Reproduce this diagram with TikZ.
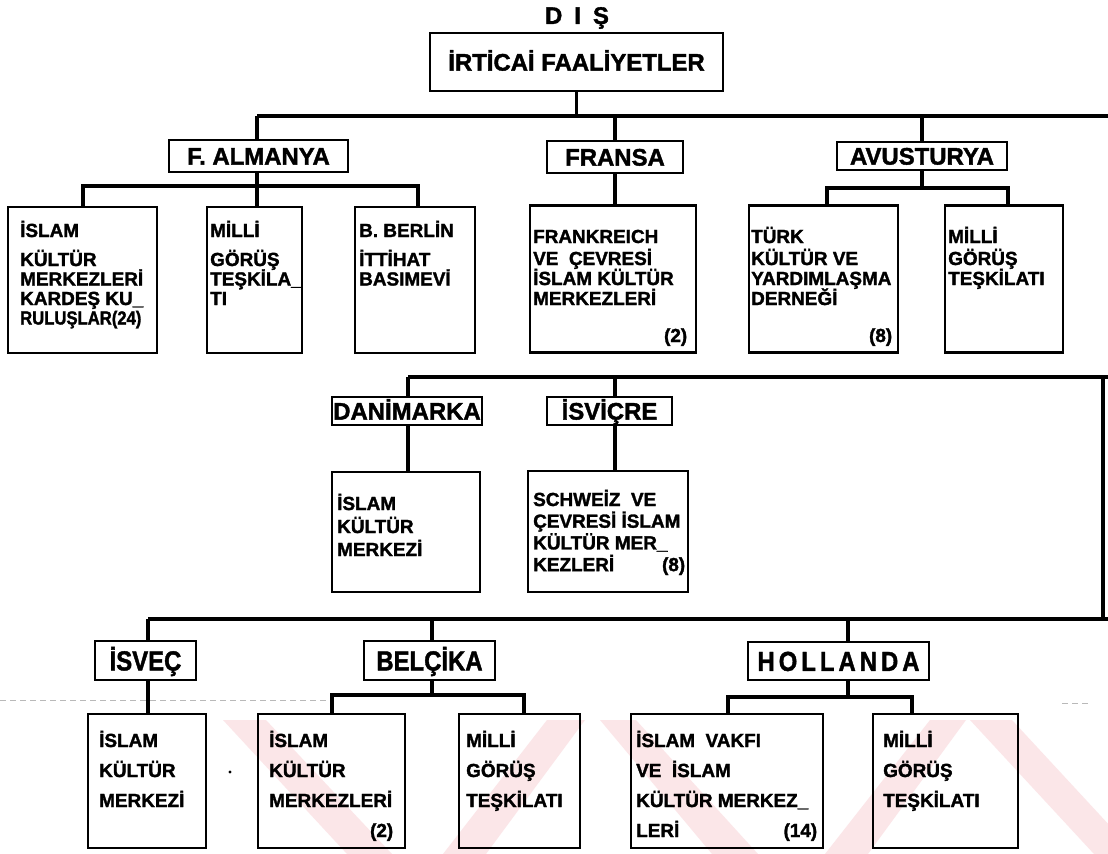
\documentclass[tikz,border=0pt]{standalone}
\usepackage{graphicx}
\usepackage{fontspec}
\setmainfont{Liberation Sans}[BoldFeatures={FakeBold=1.6}]
\definecolor{wm}{RGB}{251,230,232}
\newcommand{\tb}[3]{\parbox[t]{#1}{\fontsize{19}{#2}\selectfont\lineskiplimit=-100pt\lineskip=0pt\hyphenpenalty=10000\exhyphenpenalty=10000\raggedright #3}}
\newcommand{\tall}[1]{\scalebox{1}[1.15]{#1}}
\begin{document}
\begin{tikzpicture}[x=1bp,y=-1bp,
  bus/.style={line width=3.4bp},
  conn/.style={line width=3.1bp},
  lbl/.style={draw, line width=2.5bp, inner sep=0pt, text height=17.2bp, text depth=0pt, font=\bfseries\fontsize{24}{28}\selectfont},
  lbltall/.style={lbl, text height=19.8bp},
  cbox/.style={draw, line width=2.5bp, inner sep=0pt},
  ctxt/.style={anchor=base west, inner sep=0pt, font=\bfseries}
]
\useasboundingbox[fill=white] (0,0) rectangle (1108,854);
% watermark bands
\fill[wm] (223,720) -- (266,720) -- (392,854) -- (347,854) -- cycle;
\fill[wm] (547,720) -- (585,720) -- (486,854) -- (443,854) -- cycle;
\fill[wm] (600,720) -- (636,720) -- (758,854) -- (712,854) -- cycle;
\fill[wm] (930,720) -- (966,720) -- (868,854) -- (825,854) -- cycle;
\fill[wm] (970,720) -- (1012,720) -- (1136,854) -- (1094,854) -- cycle;
% scan artifacts
\draw[gray!55, line width=0.9bp, dash pattern=on 6bp off 4bp] (0,700) -- (330,700);
\draw[gray!55, line width=0.9bp, dash pattern=on 6bp off 4bp] (1062,703) -- (1090,703);
\fill (230,772) circle (1.6bp);

% title
\node[font=\bfseries\fontsize{24}{28}\selectfont] (dis) at (577,18) {D\hspace{12bp}I\hspace{12bp}Ş};
\node[lbl, minimum width=293bp, minimum height=58bp] (root) at (576.5,62) {İRTİCAİ FAALİYETLER};

% level 1 labels
\node[lbl, minimum width=179bp, minimum height=32bp] (alm) at (258.5,156) {F. ALMANYA};
\node[lbl, minimum width=136bp, minimum height=32bp] (fra) at (615,157) {FRANSA};
\node[lbl, minimum width=170bp, minimum height=28bp] (avu) at (922,156) {AVUSTURYA};

% level 1 children boxes
\node[cbox, minimum width=149bp, minimum height=146bp] (a1) at (82.5,280) {};
\node[cbox, minimum width=95bp, minimum height=146bp] (a2) at (254.5,280) {};
\node[cbox, minimum width=120bp, minimum height=146bp] (a3) at (415,280) {};
\node[cbox, minimum width=166bp, minimum height=147bp] (f1) at (613,279) {};
\node[cbox, minimum width=149bp, minimum height=147bp] (v1) at (823.5,279) {};
\node[cbox, minimum width=118bp, minimum height=147bp] (v2) at (1004,279) {};

\node[ctxt] (a1t) at (20,237) {\tb{140bp}{19.5bp}{İSLAM\\[9.5bp]KÜLTÜR\\MERKEZLERİ\\KARDEŞ~KU\_\\\scalebox{0.88}[1]{RULUŞLAR(24)}}};
\node[ctxt] (a2t) at (210,237) {\tb{100bp}{19.5bp}{MİLLİ\\[9.5bp]GÖRÜŞ\\TEŞKİLA\_\\TI}};
\node[ctxt] (a3t) at (359,237) {\tb{120bp}{19.5bp}{B.~BERLİN\\[9.5bp]İTTİHAT\\BASIMEVİ}};
\node[ctxt] (f1t) at (533,243) {\tb{154bp}{20bp}{FRANKREICH\\[2bp]VE~~ÇEVRESİ\\İSLAM~KÜLTÜR\\MERKEZLERİ\\[17bp]\hfill(2)}};
\node[ctxt] (v1t) at (751,243) {\tb{141bp}{20bp}{TÜRK\\[2bp]KÜLTÜR~VE\\YARDIMLAŞMA\\DERNEĞİ\\[17bp]\hfill(8)}};
\node[ctxt] (v2t) at (948,243) {\tb{110bp}{20bp}{MİLLİ\\[2bp]GÖRÜŞ\\TEŞKİLATI}};

% level 2
\node[lbl, minimum width=150bp, minimum height=28bp] (dan) at (407,411) {DANİMARKA};
\node[lbl, minimum width=125bp, minimum height=28bp] (isv) at (609.5,411) {İSVİÇRE};
\node[cbox, minimum width=148bp, minimum height=120bp] (d1) at (406,532) {};
\node[cbox, minimum width=160bp, minimum height=121bp] (s1) at (608,531.5) {};
\node[ctxt] (d1t) at (337,510) {\tb{140bp}{23bp}{İSLAM\\KÜLTÜR\\MERKEZİ}};
\node[ctxt] (s1t) at (533,506) {\tb{152bp}{21.7bp}{SCHWEİZ~~VE\\ÇEVRESİ~İSLAM\\KÜLTÜR~MER\_\\KEZLERİ\hfill(8)}};

% level 3
\node[lbltall, minimum width=101bp, minimum height=39bp] (isvec) at (145.5,660.5) {\tall{İSVEÇ}};
\node[lbltall, minimum width=131bp, minimum height=39bp] (bel) at (429.5,660.5) {\tall{BELÇİKA}};
\node[lbltall, minimum width=181bp, minimum height=38bp] (hol) at (838.5,661) {\tall{H\,O\,L\,L\,A\,N\,D\,A}};
\node[cbox, minimum width=118bp, minimum height=134bp] (i1) at (147,781) {};
\node[cbox, minimum width=147bp, minimum height=134bp] (b1) at (331.5,781) {};
\node[cbox, minimum width=121bp, minimum height=134bp] (b2) at (519.5,781) {};
\node[cbox, minimum width=192bp, minimum height=134bp] (h1) at (727,781) {};
\node[cbox, minimum width=145bp, minimum height=134bp] (h2) at (945.5,781) {};
\node[ctxt] (i1t) at (99,747) {\tb{110bp}{30bp}{İSLAM\\KÜLTÜR\\MERKEZİ}};
\node[ctxt] (b1t) at (269,747) {\tb{124bp}{30bp}{İSLAM\\KÜLTÜR\\MERKEZLERİ\\\hfill(2)}};
\node[ctxt] (b2t) at (466,747) {\tb{110bp}{30bp}{MİLLİ\\GÖRÜŞ\\TEŞKİLATI}};
\node[ctxt] (h1t) at (636,747) {\tb{181bp}{30bp}{İSLAM~~VAKFI\\VE~~İSLAM\\KÜLTÜR~MERKEZ\_\\LERİ\hfill(14)}};
\node[ctxt] (h2t) at (883,747) {\tb{120bp}{30bp}{MİLLİ\\GÖRÜŞ\\TEŞKİLATI}};

% connectors level 0-1
\coordinate (b1L) at (257,116);
\coordinate (b1R) at (1108,116);
\draw[bus] (b1L) -- (b1R);
\draw[conn] (root.south) -- (root.south |- b1L);
\draw[conn] (b1L) -- (b1L |- alm.north);
\draw[conn] (fra.north |- b1L) -- (fra.north);
\draw[conn] (avu.north |- b1L) -- (avu.north);
% almanya children
\coordinate (abL) at (83,186);
\coordinate (abR) at (418,186);
\draw[conn] (abL |- a1.north) -- (abL) -- (abR) -- (abR |- a3.north);
\draw[conn] (b1L |- alm.south) -- (b1L |- a2.north);
% fransa child
\draw[conn] (fra.south) -- (fra.south |- f1.north);
% avusturya children
\coordinate (vbL) at (827,188);
\coordinate (vbR) at (1008,188);
\draw[conn] (vbL |- v1.north) -- (vbL) -- (vbR) -- (vbR |- v2.north);
\draw[conn] (avu.south) -- (avu.south |- vbL);

% bus 2
\coordinate (b2L) at (408,377);
\coordinate (b2R) at (1108,377);
\coordinate (rvT) at (1103,377);
\coordinate (rvB) at (1103,619);
\draw[bus] (b2L) -- (b2R);
\draw[conn] (rvT) -- (rvB);
\draw[conn] (b2L) -- (b2L |- dan.north);
\draw[conn] (b2L |- dan.south) -- (b2L |- d1.north);
\coordinate (isvX) at (615,377);
\draw[conn] (isvX) -- (isvX |- isv.north);
\draw[conn] (isvX |- isv.south) -- (isvX |- s1.north);

% bus 3
\coordinate (b3L) at (148,619);
\coordinate (b3R) at (1108,619);
\draw[bus] (b3L) -- (b3R);
\draw[conn] (b3L) -- (b3L |- isvec.north);
\draw[conn] (b3L |- isvec.south) -- (b3L |- i1.north);
\coordinate (belX) at (432,619);
\draw[conn] (belX) -- (belX |- bel.north);
\coordinate (bbL) at (332,695);
\coordinate (bbR) at (524,695);
\draw[conn] (belX |- bel.south) -- (belX |- bbL);
\draw[conn] (bbL |- b1.north) -- (bbL) -- (bbR) -- (bbR |- b2.north);
\coordinate (holX) at (848,619);
\draw[conn] (holX) -- (holX |- hol.north);
\coordinate (hbL) at (728,697);
\coordinate (hbR) at (912,697);
\draw[conn] (holX |- hol.south) -- (holX |- hbL);
\draw[conn] (hbL |- h1.north) -- (hbL) -- (hbR) -- (hbR |- h2.north);
\end{tikzpicture}
\end{document}
